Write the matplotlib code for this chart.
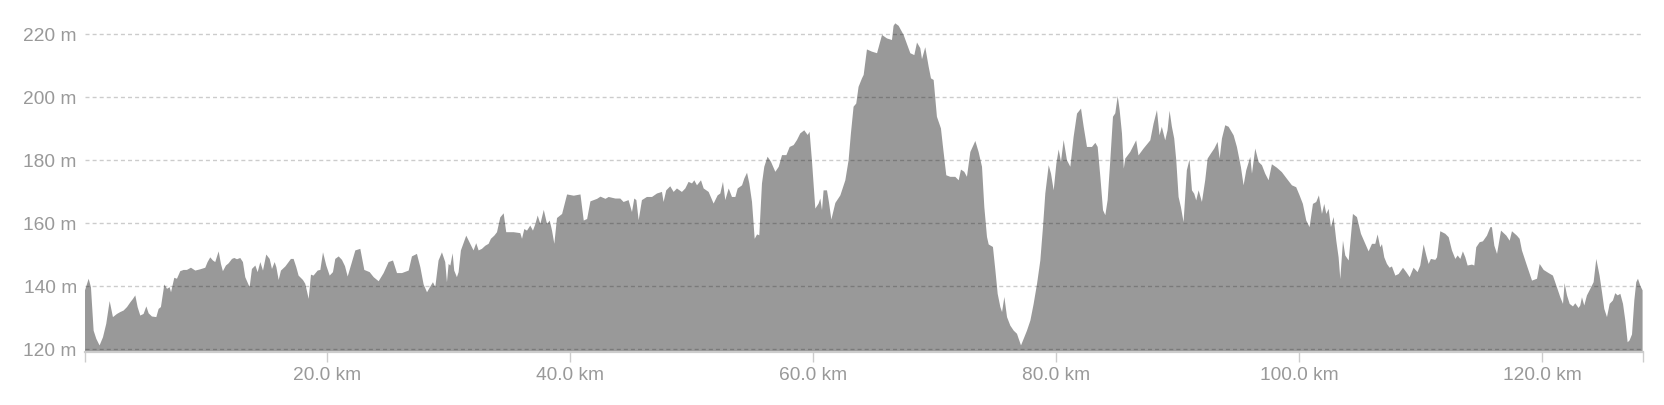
import matplotlib
matplotlib.use("Agg")
import matplotlib.pyplot as plt
from matplotlib.ticker import FixedLocator, FuncFormatter

plt.rcParams['font.family'] = ['Liberation Sans', 'DejaVu Sans']
plt.rcParams['lines.scale_dashes'] = False

# distance along route (km)
distance_km = [
    0, 0.3, 0.49, 0.71, 0.93, 1.2, 1.48, 1.75, 2.03, 2.3, 2.63, 2.9, 3.18, 3.46, 3.73, 3.95, 4.14, 4.33, 4.55, 4.82,
    5.05, 5.24, 5.51, 5.87, 6.06, 6.25, 6.53, 6.75, 6.97, 7.08, 7.35, 7.57, 7.84, 8.12, 8.39, 8.72, 9.08, 9.49, 9.9,
    10.09, 10.31, 10.53, 10.72, 11.0, 11.19, 11.35, 11.6, 11.82, 12.1, 12.29, 12.51, 12.78, 13.0, 13.19, 13.55, 13.74,
    14.02, 14.21, 14.43, 14.65, 14.92, 15.2, 15.39, 15.61, 15.75, 15.94, 16.13, 16.49, 16.76, 16.95, 17.17, 17.39,
    17.58, 17.94, 18.13, 18.41, 18.6, 18.81, 19.15, 19.37, 19.59, 19.86, 20.14, 20.41, 20.6, 20.88, 21.15, 21.4,
    21.62, 21.97, 22.25, 22.66, 22.99, 23.43, 23.76, 24.17, 24.58, 24.99, 25.35, 25.68, 26.09, 26.64, 26.91, 27.32,
    27.6, 27.87, 28.15, 28.42, 28.64, 28.83, 29.1, 29.38, 29.65, 29.79, 29.93, 30.07, 30.26, 30.39, 30.61, 30.75,
    30.94, 31.38, 31.71, 31.98, 32.2, 32.4, 32.67, 32.95, 33.22, 33.41, 33.69, 33.91, 34.18, 34.46, 34.67, 35.28,
    35.83, 35.97, 36.16, 36.38, 36.65, 36.87, 37.07, 37.26, 37.48, 37.76, 38.03, 38.25, 38.44, 38.63, 38.85, 39.27,
    39.68, 40.23, 40.78, 41.05, 41.33, 41.6, 42.15, 42.43, 42.84,
    43.1, 43.65, 44.06, 44.33, 44.74, 45.02, 45.21, 45.38, 45.57, 45.84, 46.25, 46.67, 47.08, 47.49, 47.62, 47.84,
    48.17, 48.45, 48.72, 49.13, 49.41, 49.68, 49.96, 50.15, 50.37, 50.7, 50.92, 51.33, 51.74, 52.07, 52.29, 52.51,
    52.7, 52.98, 53.25, 53.53, 53.72, 54.08, 54.27, 54.49, 54.68, 54.9, 55.12, 55.32, 55.5, 55.72, 55.91, 56.18,
    56.46, 56.82, 57.1, 57.37, 57.73, 58.0, 58.33, 58.6, 58.87, 59.2, 59.48, 59.64, 59.83, 60.11, 60.38, 60.52,
    60.66, 60.79, 61.07, 61.23, 61.43, 61.76, 62.17, 62.58, 62.85, 63.04, 63.26, 63.48, 63.67, 63.95,
    64.09, 64.36, 64.77, 65.19, 65.6, 66.01, 66.42, 66.55, 66.69, 66.97, 67.38, 67.93, 68.26, 68.48, 68.75, 68.89,
    69.16, 69.44, 69.63, 69.85, 70.12, 70.45, 70.62, 70.89, 71.22, 71.63, 71.91, 72.1, 72.37, 72.59, 72.87, 73.28,
    73.55, 73.83, 74.02, 74.24, 74.38, 74.73, 74.93, 75.12, 75.34, 75.48, 75.67, 75.89, 76.16, 76.44, 76.71, 76.85,
    77.04, 77.26, 77.53, 77.81, 78.08, 78.36, 78.63, 78.85, 79.04, 79.32, 79.51, 79.73, 79.95, 80.14, 80.33, 80.55,
    80.82, 81.1, 81.37, 81.65, 81.98, 82.2, 82.47, 82.88, 83.16, 83.35, 83.57, 83.79, 83.98, 84.17, 84.39, 84.61,
    84.8, 85.0, 85.16,
    85.35, 85.5, 85.62, 86.03, 86.52, 86.71, 87.13, 87.68, 87.95, 88.23, 88.44, 88.63, 88.91, 89.1, 89.27, 89.46,
    89.65, 89.82, 90.01, 90.2, 90.42, 90.69, 90.91, 91.11, 91.3, 91.46, 91.66, 91.93, 92.2, 92.4, 92.67, 92.95,
    93.22, 93.39, 93.58, 93.85, 94.13, 94.54, 94.81, 95.14, 95.36, 95.58, 95.91, 96.05, 96.32, 96.6, 96.87, 97.14,
    97.42, 97.69, 98.1, 98.51, 98.92, 99.34, 99.69, 99.97, 100.24, 100.52, 100.79, 101.07, 101.34, 101.56, 101.81,
    102.0, 102.17, 102.36, 102.55, 102.77, 102.99, 103.18, 103.32, 103.54, 103.73, 104.01, 104.36, 104.69, 105.02,
    105.38, 105.65, 105.93, 106.2, 106.39, 106.61,
    106.75, 106.94, 107.16, 107.38, 107.57, 107.85, 108.12, 108.48, 108.75, 109.03, 109.35, 109.68, 109.9, 110.18,
    110.4, 110.59, 110.78, 111.14, 111.28, 111.55, 111.96, 112.24, 112.51, 112.79, 112.98, 113.2, 113.41, 113.61,
    113.8, 114.16, 114.35, 114.51, 114.79, 115.06, 115.39, 115.67, 115.8, 116.0, 116.22, 116.55, 116.99, 117.26,
    117.45, 117.86, 118.08, 118.27, 118.68, 119.1, 119.51, 119.73, 120.06, 120.47, 120.82, 121.15, 121.43, 121.65,
    121.78, 121.98, 122.2, 122.47, 122.66, 122.93, 123.07, 123.21, 123.4, 123.62, 123.9, 124.17, 124.39, 124.66,
    124.86, 125.05, 125.27, 125.49, 125.76, 125.95, 126.15, 126.37, 126.59, 126.78, 126.97, 127.13, 127.33, 127.52,
    127.68, 127.82, 128.01, 128.2,
]

# elevation (m)
elevation_m = [
    138.8, 142.5, 139.8, 126, 123.4, 121.3, 123.9, 128.2, 135.4, 130.3, 131.3, 131.9, 132.4, 133.5, 135, 136.1, 137.2,
    133.5, 130.8, 131.3, 133.7, 131.5, 130.5, 130.3, 132.9, 133.5, 140.7, 139.3, 139.8, 138.2, 142.8, 142.5, 144.9,
    145.3, 145.3, 146, 145.1, 145.5, 146, 147.8, 149.3, 148.3, 147.8, 151.2, 147.2, 144.9, 146.7, 147.4, 148.8, 149.1,
    148.7, 149.1, 147.8, 143, 139.8, 145.6, 146.7, 144.6, 147.8, 145.1, 150.2, 148.8, 145.6, 147.8, 146.2, 142.1,
    145.1, 146.4, 147.8, 148.8, 148.8, 146.2, 143.5, 142.1, 140.9, 136.1, 143.8, 143.5, 145.1, 145.3, 150.9, 146.7,
    143.5, 144.6, 148.8, 149.6, 148.5, 146.5,
    143.2, 147.8, 151.5, 152, 145.3, 144.6, 143, 141.7, 144.3, 147.8, 148.3, 144.3, 144.3, 145.1, 149.6, 150.4, 146.2,
    140.7, 138.2, 140, 141.4, 139.8, 148.3, 150.9, 147.8, 141.4, 147.2, 146.7, 150.6, 145.1, 143, 144.6, 151.5, 156.2,
    153.6, 151.5, 153.8, 151.5, 152, 153, 153.6, 155.2, 156.2, 157.3, 162, 163.3, 157.3, 157.3, 157, 155.2, 158.3,
    157.8, 159.4, 157.8, 159.9, 162.6, 159.9, 164.4, 159.9, 161, 157.8, 153.6, 161.8, 163.1, 169.3, 168.9, 169.3, 161,
    161.5, 167.1, 167.9, 168.6, 167.9,
    168.5, 168, 168, 166.9, 167.5, 163.7, 168, 167.5, 161.1, 167.5, 168.5, 168.5, 169.6, 170.1, 166.9, 170.6, 171.9,
    170.1, 171.2, 170.1, 171.2, 173.3, 172.8, 173.8, 172.2, 173.8, 171.2, 170.1, 166.4, 169, 169.6, 173.3, 167.5,
    171.2, 168.5, 168.5, 171.2, 172.2, 174.4, 176.2, 172.8, 166.9, 155.2, 156.6, 156.3, 172.8, 178.1, 181.3, 179.7,
    176.5, 178.1, 181.8, 181.8, 184.4, 185, 186.6, 188.7, 189.7, 188.2, 189.2, 180.2, 164.8, 166.4, 168, 164.3, 170.6,
    170.6, 166.9, 161.3, 166.6, 169, 173.8, 180.2, 188.7, 197.2, 198.2, 203.5, 206.2,
    207.3, 215.4, 214.7, 214.2, 220, 218.9, 218.4, 222.9, 223.7, 222.9, 220, 214.2, 213.6, 217.6, 215.8, 212.3, 216.1,
    209.9, 206.2, 205.7, 194, 190.3, 184.4, 175.4, 174.9, 174.9, 173.8, 177.2, 176.5, 174.9, 182.8, 186.3, 182.8,
    178.1, 165.3, 155.8, 153.4, 152.6, 145.2, 137.7, 133.5, 131.9, 136.7, 130.3, 127.6, 126, 125, 123.4, 121.3, 123.4,
    126, 129.2, 134.5, 140.9, 148.3, 159, 169.6, 178.6, 175.9, 170.6, 179.1, 183.6, 179.7, 186.6, 180.2, 178.1, 187.6,
    195, 196.6, 190.8, 184.4, 184.4, 185.7, 184.4, 174.9, 164.3, 162.7, 167.5, 180.2, 194, 195.1, 200.6, 196.1,
    188.7, 177.5, 180.7, 182.8, 186.5, 181.7, 183.9, 186.5, 191.8, 196.1, 188.1, 190.8, 186.5, 189.7, 195.9, 190.8,
    187.1, 180.1, 168.5, 165.3, 160.5, 177, 180.4, 170.6, 169.5, 167.4, 170.6, 166.9, 173.8, 180.7, 182.3, 183.9, 186,
    180.7, 187.1, 191.3, 190.8, 188.1, 184.4, 178, 172.2, 177, 181.2, 175.9, 183.9, 179.6, 178.6, 175.9, 173.8, 178.9,
    177.8, 176.4, 174.3, 172.2, 171.6, 169, 166.3, 161, 158.9, 166.3, 166.9, 169, 163.1, 166.3, 163.1, 164.7, 158.9,
    162.1, 154.6, 149.3, 142.4, 154.6, 149.9, 148.3, 163.1, 162.1, 156.8, 153.6, 151.2, 153.6, 153.6, 156.6, 152.5,
    153.5, 149.3, 147.2, 146, 146.4, 143.5, 144, 146, 144.6, 143, 146, 144.6, 146.7, 153.4, 149.9, 147.2, 148.8, 148.5,
    149.3, 157.6, 156.8, 155.7, 151.5, 148.8, 149.9, 148.8, 151.2, 149.3, 146.7, 147, 146.7, 152.5, 154.1, 154.4,
    156.2, 158.9, 158.9, 153, 150.4, 157.8, 156.2, 154.6, 157.6, 156.2, 155.2, 151.5, 146.7, 141.9, 142.5, 147.2,
    145.3, 144.3, 143.5, 139.8, 136.6, 134.5, 141.1, 137.2, 134.5, 133.7, 134.7, 133.2, 134, 136.6, 134, 137.2, 139.3,
    141.4, 148.8, 143.5, 138.2, 132.9, 130.3, 134.5, 135.6, 137.9, 137.2, 137.7, 134.5, 129.2, 122.3, 122.9, 124.8,
    135.6, 141.4, 142.5, 140.3, 138.8,
]

y_ticks = [120, 140, 160, 180, 200, 220]
x_ticks = [20, 40, 60, 80, 100, 120]
x_max = 128.3
y_min, y_max = 119.05, 224.6

W, H = 1664, 405
fig = plt.figure(figsize=(W / 100, H / 100), dpi=100)
ax = fig.add_axes([84.5 / W, (H - 352) / H, (1643.3 - 84.5) / W, (352 - 20) / H])

ax.fill_between(distance_km, elevation_m, y_min, color='#999999', linewidth=0, zorder=1)

ax.set_xlim(0, x_max)
ax.set_ylim(y_min, y_max)

label_color = '#999999'
ax.yaxis.set_major_locator(FixedLocator(y_ticks))
ax.yaxis.set_major_formatter(FuncFormatter(lambda v, p: f"{v:.0f} m"))
ax.xaxis.set_major_locator(FixedLocator([0] + x_ticks + [x_max]))
ax.xaxis.set_major_formatter(FuncFormatter(lambda v, p: f"{v:.1f} km" if v in x_ticks else ""))

ax.grid(axis='y', color='black', alpha=0.2, linewidth=1.0, linestyle=(0, (2.9, 2.2)), zorder=3)
ax.set_axisbelow(False)

for s in ['top', 'right', 'left']:
    ax.spines[s].set_visible(False)
ax.spines['bottom'].set_color('#cccccc')
ax.spines['bottom'].set_linewidth(1.6)
ax.spines['bottom'].set_zorder(4)

ax.tick_params(axis='y', length=0, pad=5.5, labelsize=13.8, labelcolor=label_color)
ax.tick_params(axis='x', length=7.5, width=1.0, color='#cccccc', pad=3.5, labelsize=13.8, labelcolor=label_color)

fig.savefig('out.png', dpi=100, facecolor='white')
